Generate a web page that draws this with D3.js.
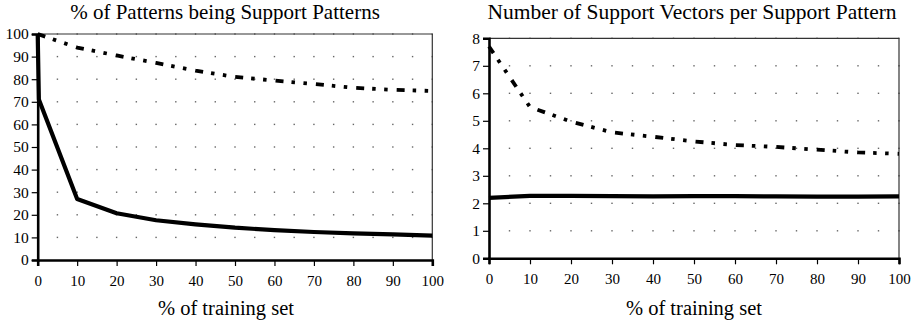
<!DOCTYPE html>
<meta charset="utf-8">
<head>
    <script src="https://d3js.org/d3.v7.min.js"></script>
</head>
<style>
    body {
        margin: 0;
        background: #fff;
    }
</style>
<body>
<script>
    'use strict';

    const FONT = "Liberation Serif";

    // left chart: % of patterns being support patterns
    const leftSolidX = [0, 0.3, 10, 20, 30, 40, 50, 60, 70, 80, 90, 100];
    const leftSolidY = [100, 71, 27, 20.7, 17.6, 15.8, 14.3, 13.2, 12.4, 11.8, 11.3, 10.8];
    const leftDashX = [0, 10, 20, 30, 40, 50, 60, 70, 80, 90, 100];
    const leftDashY = [100, 94, 90.5, 87.2, 83.8, 81, 79.4, 77.9, 76.2, 75.3, 74.8];

    // right chart: number of support vectors per support pattern
    const rightSolidX = [0, 10, 20, 30, 40, 50, 60, 70, 80, 90, 100];
    const rightSolidY = [2.2, 2.27, 2.27, 2.26, 2.25, 2.26, 2.26, 2.25, 2.24, 2.24, 2.25];
    const rightDashX = [0, 10, 20, 30, 40, 50, 60, 70, 80, 90, 100];
    const rightDashY = [7.7, 5.5, 4.97, 4.58, 4.42, 4.25, 4.12, 4.05, 3.95, 3.85, 3.8];

    const xTicks = [0, 10, 20, 30, 40, 50, 60, 70, 80, 90, 100];
    const leftYTicks = [0, 10, 20, 30, 40, 50, 60, 70, 80, 90, 100];
    const rightYTicks = [0, 1, 2, 3, 4, 5, 6, 7, 8];

    const leftTitle = "% of Patterns being Support Patterns";
    const rightTitle = "Number of Support Vectors per Support Pattern";
    const xLabel = "% of training set";

    const svg = d3.select("body").append("svg")
        .attr("width", 922)
        .attr("height", 325);

    const zip = (xs, ys) => xs.map((x, i) => [x, ys[i]]);

    function drawPanel(p) {
        const x = d3.scaleLinear().domain([0, 100]).range([p.left, p.right]);
        const y = d3.scaleLinear().domain([0, p.ymax]).range([p.bottom, p.top]);
        const g = svg.append("g");

        // dotted grid: a dot every 5 units along each y tick
        const gx = d3.range(5, 101, 5);
        p.yTicks.filter(t => t > 0).forEach(t => {
            g.selectAll(null).data(gx).enter().append("rect")
                .attr("x", d => x(d) - 0.7)
                .attr("y", y(t) - 0.7)
                .attr("width", 1.4)
                .attr("height", 1.4)
                .attr("fill", "#666");
        });

        // frame top and right
        g.append("line")
            .attr("x1", p.left).attr("x2", p.right)
            .attr("y1", p.top).attr("y2", p.top)
            .attr("stroke", "#333").attr("stroke-width", 1.2);
        g.append("line")
            .attr("x1", p.right).attr("x2", p.right)
            .attr("y1", p.top).attr("y2", p.bottom)
            .attr("stroke", "#333").attr("stroke-width", 1.2);

        // axes
        const yAxis = g.append("g")
            .attr("transform", `translate(${p.left},0)`)
            .call(d3.axisLeft(y).tickValues(p.yTicks).tickSize(6).tickPadding(3).tickFormat(d3.format("d")));
        const xAxis = g.append("g")
            .attr("transform", `translate(0,${p.bottom})`)
            .call(d3.axisBottom(x).tickValues(xTicks).tickSize(6).tickPadding(9).tickFormat(d3.format("d")));
        [xAxis, yAxis].forEach(a => {
            a.attr("font-family", FONT).attr("font-size", 15);
            a.select(".domain").attr("stroke", "#000").attr("stroke-width", 2.6);
            a.selectAll(".tick line").attr("stroke", "#000").attr("stroke-width", 1.2);
            a.selectAll(".tick text").attr("fill", "#000");
        });
        yAxis.attr("font-size", 15.5);

        const line = d3.line().x(d => x(d[0])).y(d => y(d[1]));

        g.append("path")
            .datum(zip(p.dashX, p.dashY))
            .attr("d", line)
            .attr("fill", "none")
            .attr("stroke", "#000")
            .attr("stroke-width", 3.8)
            .attr("stroke-dasharray", "8,8,3.5,8.5,3.5,9");

        g.append("path")
            .datum(zip(p.solidX, p.solidY))
            .attr("d", line)
            .attr("fill", "none")
            .attr("stroke", "#000")
            .attr("stroke-width", 4.2)
            .attr("stroke-linejoin", "round");

        svg.append("text")
            .attr("x", p.titleX).attr("y", 19)
            .attr("text-anchor", "middle")
            .attr("font-family", FONT)
            .attr("font-size", p.titleSize)
            .attr("fill", "#000")
            .text(p.title);

        svg.append("text")
            .attr("x", p.labelX).attr("y", 315)
            .attr("text-anchor", "middle")
            .attr("font-family", FONT)
            .attr("font-size", 20.5)
            .attr("fill", "#000")
            .text(xLabel);
    }

    drawPanel({
        left: 37.7, right: 432.3, top: 34, bottom: 260, ymax: 100,
        yTicks: leftYTicks,
        solidX: leftSolidX, solidY: leftSolidY,
        dashX: leftDashX, dashY: leftDashY,
        title: leftTitle, titleX: 225, labelX: 226, titleSize: 21
    });

    drawPanel({
        left: 489, right: 899, top: 38.3, bottom: 258.3, ymax: 8,
        yTicks: rightYTicks,
        solidX: rightSolidX, solidY: rightSolidY,
        dashX: rightDashX, dashY: rightDashY,
        title: rightTitle, titleX: 692, labelX: 694, titleSize: 21.5
    });
</script>
</body>
